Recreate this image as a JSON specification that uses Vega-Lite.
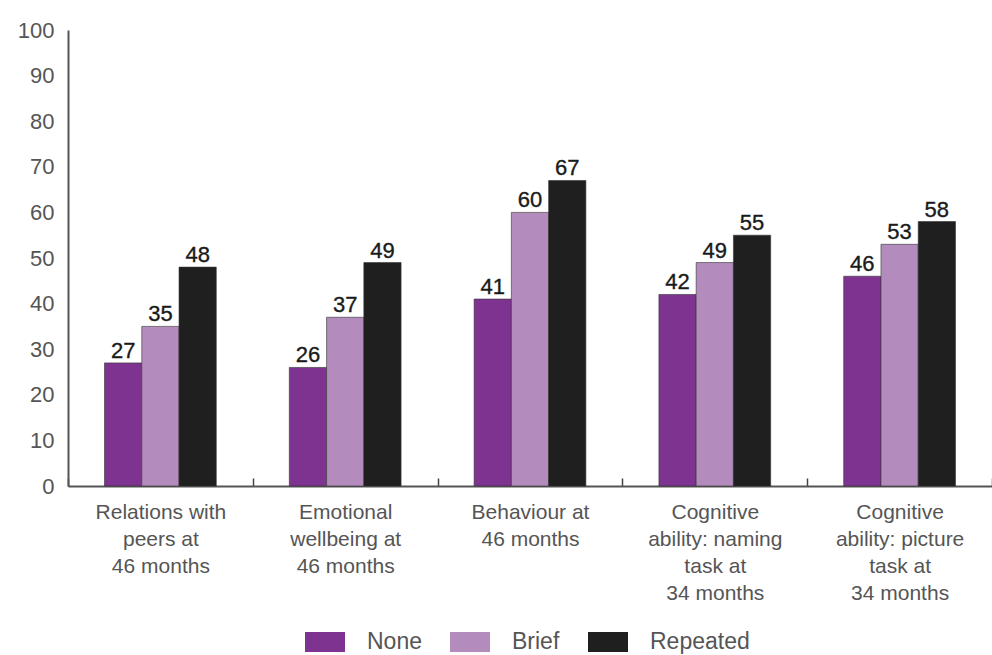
{
  "$schema": "https://vega.github.io/schema/vega-lite/v6.json",
  "width": 924,
  "height": 456,
  "autosize": {"type": "none"},
  "padding": {"left": 68, "top": 30, "right": 0, "bottom": 169},
  "background": "white",
  "config": {"view": {"stroke": null}},
  "data": {
    "values": [
      {"measure": "Relations with|peers at|46 months", "group": "None", "value": 27},
      {"measure": "Relations with|peers at|46 months", "group": "Brief", "value": 35},
      {"measure": "Relations with|peers at|46 months", "group": "Repeated", "value": 48},
      {"measure": "Emotional|wellbeing at|46 months", "group": "None", "value": 26},
      {"measure": "Emotional|wellbeing at|46 months", "group": "Brief", "value": 37},
      {"measure": "Emotional|wellbeing at|46 months", "group": "Repeated", "value": 49},
      {"measure": "Behaviour at|46 months", "group": "None", "value": 41},
      {"measure": "Behaviour at|46 months", "group": "Brief", "value": 60},
      {"measure": "Behaviour at|46 months", "group": "Repeated", "value": 67},
      {"measure": "Cognitive|ability: naming|task at|34 months", "group": "None", "value": 42},
      {"measure": "Cognitive|ability: naming|task at|34 months", "group": "Brief", "value": 49},
      {"measure": "Cognitive|ability: naming|task at|34 months", "group": "Repeated", "value": 55},
      {"measure": "Cognitive|ability: picture|task at|34 months", "group": "None", "value": 46},
      {"measure": "Cognitive|ability: picture|task at|34 months", "group": "Brief", "value": 53},
      {"measure": "Cognitive|ability: picture|task at|34 months", "group": "Repeated", "value": 58}
    ]
  },
  "encoding": {
    "x": {
      "field": "measure", "type": "nominal", "sort": null,
      "scale": {"paddingInner": 0, "paddingOuter": 0},
      "axis": {
        "title": null, "labelAngle": 0, "labelExpr": "split(datum.label, '|')",
        "labelFont": "Liberation Sans", "labelFontSize": 21, "labelColor": "#555555",
        "labelLineHeight": 27, "labelPadding": 23, "labelBaseline": "top",
        "tickBand": "extent", "tickSize": -8, "tickColor": "#444444", "tickWidth": 1.5,
        "domainColor": "#555555", "domainWidth": 2
      }
    },
    "xOffset": {"field": "group", "type": "nominal", "sort": ["None", "Brief", "Repeated"],
      "scale": {"paddingInner": 0, "paddingOuter": 0.98}},
    "y": {
      "field": "value", "type": "quantitative",
      "scale": {"domain": [0, 100], "nice": false},
      "axis": {
        "title": null, "values": [0,10,20,30,40,50,60,70,80,90,100], "grid": false, "ticks": false,
        "labelFont": "Liberation Sans", "labelFontSize": 22, "labelColor": "#555555",
        "labelPadding": 14, "domainColor": "#555555", "domainWidth": 2
      }
    }
  },
  "layer": [
    {
      "mark": {"type": "bar", "stroke": "#333333", "strokeWidth": 0.6},
      "encoding": {
        "color": {
          "field": "group", "type": "nominal",
          "scale": {"domain": ["None", "Brief", "Repeated"], "range": ["#7e3390", "#b48bbd", "#1f1f1f"]},
          "legend": {
            "title": null, "orient": "none", "direction": "horizontal",
            "legendX": 237, "legendY": 592,
            "symbolType": "M-1,-0.5h2v1h-2z", "symbolSize": 1600, "symbolStrokeWidth": 0,
            "labelFont": "Liberation Sans", "labelFontSize": 23, "labelColor": "#555555",
            "labelOffset": 22, "columnPadding": 28
          }
        }
      }
    },
    {
      "mark": {"type": "text", "baseline": "alphabetic", "dy": -5, "font": "Liberation Sans", "fontSize": 22, "fontWeight": "normal", "color": "#1a1a1a", "stroke": "#1a1a1a", "strokeWidth": 0.35},
      "encoding": {"text": {"field": "value", "type": "quantitative"}}
    }
  ]
}
